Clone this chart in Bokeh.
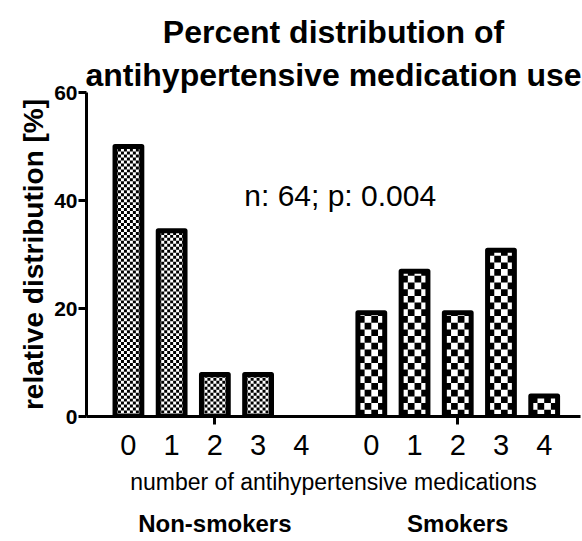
from bokeh.plotting import figure
from bokeh.models import (ColumnDataSource, FixedTicker, Range1d, Label, Title, LinearAxis)
from bokeh.embed import file_html
from bokeh.resources import INLINE

# ---- data ----
med_counts = ["0", "1", "2", "3", "4"]
non_smokers_pct = [50.0, 34.4, 7.8, 7.8, 0.0]
smokers_pct = [19.2, 26.9, 19.2, 30.8, 3.8]
group_names = ["Non-smokers", "Smokers"]
y_ticks = [0, 20, 40, 60]
stat_text = "n: 64; p: 0.004"
title_lines = ["Percent distribution of", "antihypertensive medication use"]

# positions along a numeric axis: two groups of five categories
group_offset = 5.62
ns_x = [float(i) for i in range(len(med_counts))]
sm_x = [group_offset + i for i in range(len(med_counts))]
group_x = [ns_x[2], sm_x[2]]

FONT = "Liberation Sans"
X0, X1 = -0.97, 10.46
W, H = 582, 541
ML, MR, MT, MB = 86, 2, 92, 125

p = figure(width=W, height=H, output_backend="svg", toolbar_location=None,
           x_range=Range1d(X0, X1), y_range=Range1d(0, 60),
           min_border_left=ML, min_border_right=MR, min_border_top=MT,
           min_border_bottom=MB)
p.outline_line_color = None
p.grid.grid_line_color = None
p.background_fill_color = "white"
p.border_fill_color = "white"

px_per_x = (W - ML - MR) / (X1 - X0)
px_per_y = (H - MT - MB) / 60.0
bar_w = 0.62


def checker(xs, tops, ncols):
    """Checkerboard squares filling each bar (pattern fill)."""
    sx = bar_w / ncols
    sy = sx * px_per_x / px_per_y
    L, R, B, T = [], [], [], []
    for xc, v in zip(xs, tops):
        left = xc - bar_w / 2
        j = 0
        while j * sy < v:
            for i in range(ncols):
                if (i + j) % 2 == 0:
                    L.append(left + i * sx)
                    R.append(left + (i + 1) * sx)
                    B.append(j * sy)
                    T.append(min((j + 1) * sy, v))
            j += 1
    return ColumnDataSource(dict(left=L, right=R, bottom=B, top=T))


ns_src = ColumnDataSource(dict(x=[x for x, v in zip(ns_x, non_smokers_pct) if v > 0],
                               top=[v for v in non_smokers_pct if v > 0]))
sm_src = ColumnDataSource(dict(x=sm_x, top=smokers_pct))

for src, ncols, xs, vals in [(ns_src, 9, ns_x, non_smokers_pct),
                             (sm_src, 4, sm_x, smokers_pct)]:
    p.vbar(x="x", top="top", bottom=0, width=bar_w, source=src,
           fill_color="white", line_color=None)
    p.quad(left="left", right="right", bottom="bottom", top="top",
           source=checker(xs, vals, ncols), fill_color="black", line_color=None)
    p.vbar(x="x", top="top", bottom=0, width=bar_w, source=src,
           fill_color=None, line_color="black", line_width=5, line_join="round")

# ---- x axis ----
xa = p.xaxis[0]
all_x = ns_x + sm_x
xa.ticker = FixedTicker(ticks=all_x, minor_ticks=group_x)
xa.major_label_overrides = {x: lab for x, lab in zip(all_x, med_counts + med_counts)}
xa.major_tick_line_color = None
xa.major_tick_out = 7
xa.major_tick_in = 0
xa.minor_tick_line_color = "black"
xa.minor_tick_line_width = 3
xa.minor_tick_out = 8
xa.minor_tick_in = 0
xa.axis_line_width = 3
xa.axis_line_color = "black"
xa.major_label_text_font = FONT
xa.major_label_text_font_size = "29px"
xa.major_label_text_color = "black"
xa.major_label_standoff = 10
xa.axis_label = "number of antihypertensive medications"
xa.axis_label_text_font = FONT
xa.axis_label_text_font_style = "normal"
xa.axis_label_text_font_size = "23px"
xa.axis_label_text_color = "black"
xa.axis_label_standoff = 11

# group names as a second, line-less axis below
ga = LinearAxis(ticker=FixedTicker(ticks=group_x, minor_ticks=[]),
                major_label_overrides={gx: n for gx, n in zip(group_x, group_names)})
ga.axis_line_color = None
ga.major_tick_line_color = None
ga.minor_tick_line_color = None
ga.major_tick_out = 0
ga.major_tick_in = 0
ga.major_label_standoff = 12
ga.major_label_text_font = FONT
ga.major_label_text_font_style = "bold"
ga.major_label_text_font_size = "24px"
ga.major_label_text_color = "black"
p.add_layout(ga, "below")

# ---- y axis ----
ya = p.yaxis[0]
ya.ticker = FixedTicker(ticks=y_ticks, minor_ticks=[])
ya.axis_line_width = 3
ya.axis_line_color = "black"
ya.major_tick_line_width = 3
ya.major_tick_line_color = "black"
ya.major_tick_out = 8
ya.major_tick_in = 0
ya.minor_tick_line_color = None
ya.major_label_text_font = FONT
ya.major_label_text_font_style = "bold"
ya.major_label_text_font_size = "21px"
ya.major_label_text_color = "black"
ya.major_label_standoff = 1
ya.axis_label = "relative distribution [%]"
ya.axis_label_text_font = FONT
ya.axis_label_text_font_style = "bold"
ya.axis_label_text_font_size = "28px"
ya.axis_label_text_color = "black"
ya.axis_label_standoff = 2

# ---- titles (line nearest the plot added first) ----
for line, so in zip(reversed(title_lines), [0, 9]):
    p.add_layout(Title(text=line, text_font=FONT, text_font_style="bold",
                       text_font_size="32px", align="center", standoff=so,
                       text_color="black"), "above")

# ---- annotation ----
p.add_layout(Label(x=4.9, y=41.0, text=stat_text, text_font=FONT,
                   text_font_size="30px", text_align="center",
                   text_baseline="alphabetic", text_color="black"))

open("out.html", "w").write(file_html(p, INLINE))
